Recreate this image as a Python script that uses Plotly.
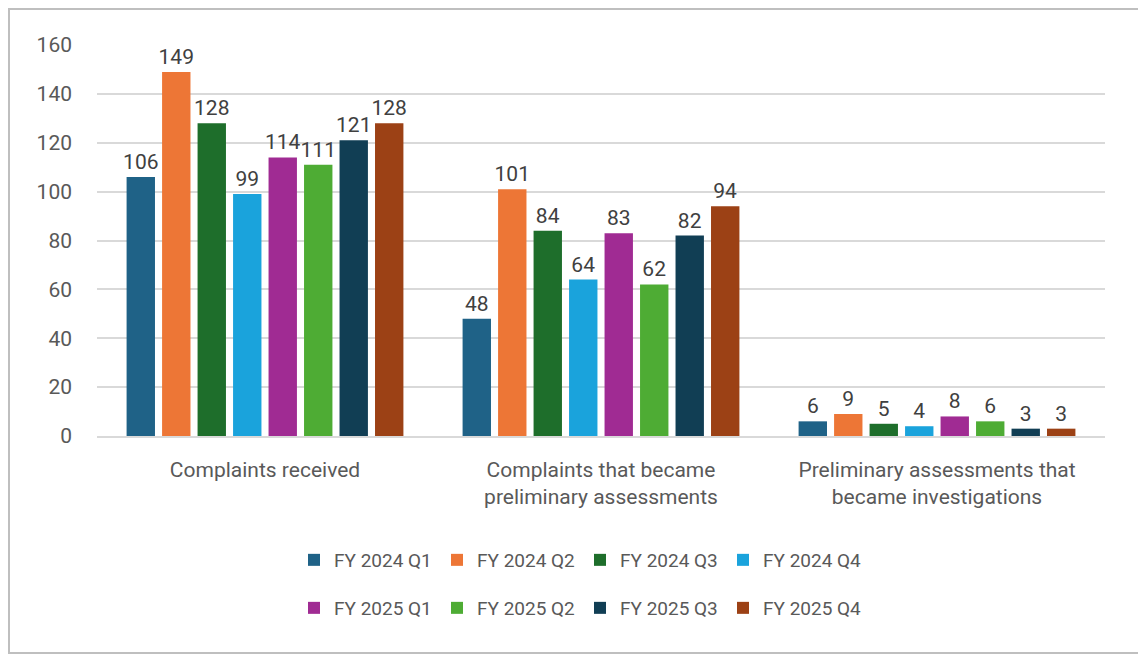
import plotly.graph_objects as go

categories = ["Complaints received",
              "Complaints that became<br>preliminary assessments",
              "Preliminary assessments that<br>became investigations"]
series_names = ["FY 2024 Q1", "FY 2024 Q2", "FY 2024 Q3", "FY 2024 Q4",
                "FY 2025 Q1", "FY 2025 Q2", "FY 2025 Q3", "FY 2025 Q4"]
series_values = [
    [106, 48, 6],
    [149, 101, 9],
    [128, 84, 5],
    [99, 64, 4],
    [114, 83, 8],
    [111, 62, 6],
    [121, 82, 3],
    [128, 94, 3],
]
colors = ["#1f6287", "#ed7636", "#1e6e2b", "#1aa3dc",
          "#a02b93", "#4eac34", "#113e54", "#9c4115"]
y_ticks = [0, 20, 40, 60, 80, 100, 120, 140, 160]

FONT = "Roboto"
W, H = 1146, 658
# page body has an 8px margin; coordinates below are figure coordinates
L, T = 89, 37
pw, ph = 1008, 391
R = W - L - pw
B = H - T - ph

fig = go.Figure()
for i, (name, vals, col) in enumerate(zip(series_names, series_values, colors)):
    fig.add_trace(go.Bar(
        x=categories, y=vals, name=name,
        marker=dict(color=col, line=dict(width=0)),
        text=[str(v) for v in vals], textposition="outside",
        constraintext="none",
        textfont=dict(family=FONT, size=21, color="#404040"),
        cliponaxis=False,
        legend="legend" if i < 4 else "legend2",
    ))

def px_x(x):
    return (x - L) / pw

def px_y(y):
    return (H - B - y) / ph

legend_common = dict(
    orientation="h", xanchor="center", yanchor="middle",
    font=dict(family=FONT, size=19, color="#595959"),
    bgcolor="rgba(0,0,0,0)", itemwidth=30, entrywidth=98,
    traceorder="normal",
)

fig.update_layout(
    width=W, height=H,
    margin=dict(l=L, r=R, t=T, b=B, autoexpand=False),
    paper_bgcolor="white", plot_bgcolor="white",
    barmode="group", bargap=0.155, bargroupgap=0.2,
    font=dict(family=FONT, color="#595959"),
    xaxis=dict(showline=True, linecolor="#d9d9d9", linewidth=1.5,
               tickfont=dict(family=FONT, size=21, color="#595959"),
               ticks="", showgrid=False, ticklabelstandoff=14),
    yaxis=dict(range=[0, 160], tickvals=y_ticks, showgrid=True,
               gridcolor="#d9d9d9", gridwidth=1.5, zeroline=False,
               tickfont=dict(family=FONT, size=21, color="#595959"),
               ticklabelstandoff=24, showline=False),
    legend=dict(x=px_x(572), y=px_y(552), **legend_common),
    legend2=dict(x=px_x(572), y=px_y(600), **legend_common),
    showlegend=True,
)

fig.add_shape(type="rect", xref="paper", yref="paper",
              x0=px_x(1), x1=px_x(1134), y0=px_y(645), y1=px_y(1),
              line=dict(color="#bfbfbf", width=2), fillcolor="rgba(0,0,0,0)",
              layer="below")

fig.write_html("out.html")
